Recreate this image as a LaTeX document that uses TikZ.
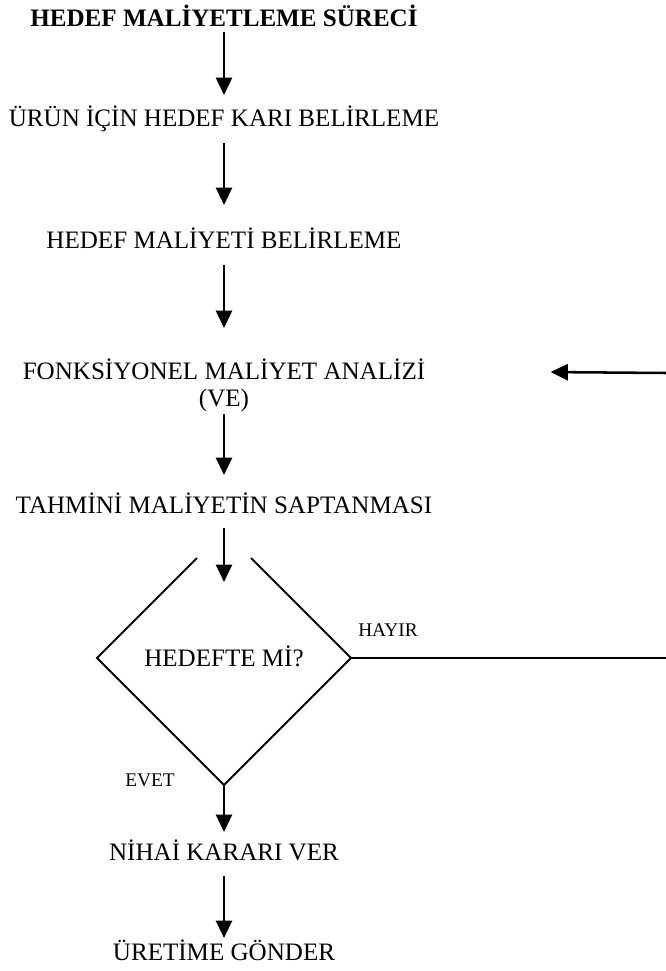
\documentclass[tikz,border=0pt]{standalone}
\usepackage{fontspec}
\setmainfont{Liberation Serif}
\usetikzlibrary{arrows.meta,shapes.geometric,calc}

\tikzset{
  stage/.style={font=\fontsize{18.8}{22}\selectfont, text height=12.5pt, text depth=0pt, inner sep=0pt, outer sep=0pt},
  yesno/.style={font=\fontsize{14.5}{17}\selectfont, inner sep=0pt},
  arr/.style={line width=1.9pt, -{Triangle[width=12pt,length=13pt]}},
  outline/.style={line width=1.5pt}
}

\begin{document}
\begin{tikzpicture}[x=0.75pt,y=-0.75pt]
\useasboundingbox (0,0) rectangle (666,971); % --- page size

% ----- steps of the flow
\node[stage,font=\fontsize{18.8}{22}\selectfont\bfseries] (title) at (224,18) {HEDEF MALİYETLEME SÜRECİ};
\node[stage] (kar) at (224,118) {ÜRÜN İÇİN HEDEF KARI BELİRLEME};
\node[stage] (hedef) at (224,240) {HEDEF MALİYETİ BELİRLEME};
\node[stage] (fma) at (224,371) {FONKSİYONEL MALİYET ANALİZİ};
\node[stage] (ve) at (224,398) {(VE)};
\node[stage] (tahmin) at (224,505) {TAHMİNİ MALİYETİN SAPTANMASI};
\node[diamond,stage,minimum width=190.5pt,minimum height=190.5pt] (soru) at (224,658) {HEDEFTE Mİ?};
\node[stage] (karar) at (224,852) {NİHAİ KARARI VER};
\node[stage] (uretim) at (224,952) {ÜRETİME GÖNDER};

\node[yesno] (hayir) at (388,630) {HAYIR};
\node[yesno] (evet) at (150,780) {EVET};

\coordinate (sag1) at (666,658); % right edge, HAYIR line
\coordinate (sag2) at (666,373); % right edge, back arrow

% ----- diamond, open at the top
\draw[outline] ($(soru.north)!0.213!(soru.west)$) -- (soru.west) -- (soru.south) -- (soru.east) -- ($(soru.north)!0.213!(soru.east)$);

% ----- arrows
\draw[arr,shorten <=4.3pt,shorten >=11pt] (title.south) -- (kar.north);
\draw[arr,shorten <=12.5pt,shorten >=20pt] (kar.south) -- (hedef.north);
\draw[arr,shorten <=12.5pt,shorten >=26pt] (hedef.south) -- (fma.north);
\draw[arr,shorten <=5.8pt,shorten >=16.3pt] (ve.south) -- (tahmin.north);
\draw[arr,shorten <=11pt,shorten >=57pt] (tahmin.south) -- (soru.center);
\draw[arr,shorten >=8.8pt] (soru.south) -- (karar.north);
\draw[arr,shorten <=11.8pt,shorten >=4.3pt] (karar.south) -- (uretim.north);

\draw[line width=1.9pt] (soru.east) -- (sag1); % HAYIR
\draw[arr,shorten >=94pt] (sag2) -- (fma.east); % back to analysis
\end{tikzpicture}
\end{document}
